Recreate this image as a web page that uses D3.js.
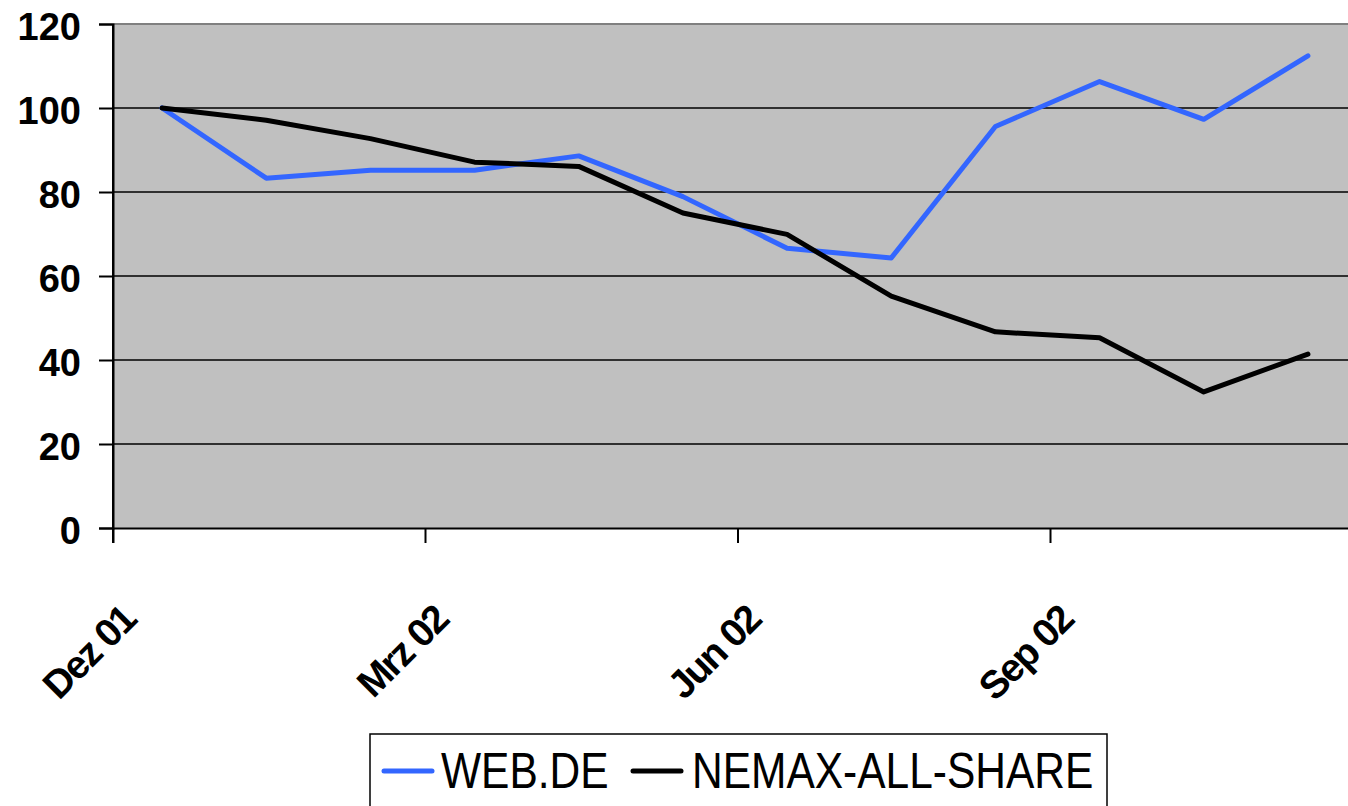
<!DOCTYPE html>
<html><head><meta charset="utf-8">
<script src="https://cdn.jsdelivr.net/npm/d3@7"></script>
<style>html,body{margin:0;padding:0;background:#fff;overflow:hidden}</style>
</head><body><svg id="c" width="1348" height="806"></svg>
<script>
const months = ["Dez 01","Jan 02","Feb 02","Mrz 02","Apr 02","Mai 02","Jun 02","Jul 02","Aug 02","Sep 02","Okt 02","Nov 02"];
const tickLabels = ["Dez 01","Mrz 02","Jun 02","Sep 02"];
const webde = [100, 83.3, 85.2, 85.2, 88.6, 78.9, 66.6, 64.3, 95.6, 106.3, 97.3, 112.4];
const nemax = [100, 97.1, 92.7, 87.1, 86.1, 75.0, 69.9, 55.2, 46.7, 45.3, 32.4, 41.4];
const yTicks = [0,20,40,60,80,100,120];
const seriesNames = ["WEB.DE","NEMAX-ALL-SHARE"];
const colors = ["#3366ff","#000000"];

const svg = d3.select("#c");
const L = 113, R = 1363, T = 24, B = 528;
const x = d3.scaleBand().domain(months).range([L, R]).padding(0);
const y = d3.scaleLinear().domain([0,120]).range([B, T]);

svg.append("rect").attr("x", L).attr("y", T).attr("width", R-L).attr("height", B-T).attr("fill", "#c0c0c0");
svg.selectAll(".grid").data(yTicks.filter(d=>d>0 && d<120)).enter().append("line")
  .attr("x1", L).attr("x2", R).attr("y1", d=>y(d)).attr("y2", d=>y(d))
  .attr("stroke", "#000").attr("stroke-width", 1.5);
svg.append("line").attr("x1", L).attr("x2", R).attr("y1", y(120)).attr("y2", y(120)).attr("stroke", "#808080").attr("stroke-width", 2);

const yAxis = d3.axisLeft(y).tickValues(yTicks).tickSize(14).tickPadding(18);
const gy = svg.append("g").attr("transform", `translate(${L},0)`).call(yAxis);
gy.select(".domain").attr("stroke", "#000").attr("stroke-width", 2);
gy.selectAll(".tick line").attr("stroke", "#000").attr("stroke-width", 2);
gy.selectAll(".tick text").attr("font-family", "Liberation Sans, Arial, sans-serif").attr("font-weight", "bold")
  .attr("font-size", 38).attr("fill", "#000").attr("dy", "0.42em");

const xAxis = d3.axisBottom(x).tickValues(tickLabels).tickSize(15).tickFormat("");
const gx = svg.append("g").attr("transform", `translate(0,${B})`).call(xAxis);
gx.selectAll(".tick").attr("transform", d => `translate(${x(d)},0)`);
gx.select(".domain").attr("stroke", "#000").attr("stroke-width", 2);
gx.selectAll(".tick line").attr("stroke", "#000").attr("stroke-width", 2);
gx.selectAll(".tick").append("text")
  .attr("transform", "translate(25,94) rotate(-45)")
  .attr("text-anchor", "end").attr("font-family", "Liberation Sans, Arial, sans-serif").attr("font-weight", "bold")
  .attr("font-size", 39).attr("letter-spacing", -2).attr("fill", "#000").text(d=>d);

const line = d3.line().x((d,i)=>x(months[i]) + x.bandwidth()/2 - 3).y(d=>y(d));
[webde, nemax].forEach((s,k)=>{
  svg.append("path").datum(s).attr("d", line).attr("fill","none").attr("stroke", colors[k])
    .attr("stroke-width", 5).attr("stroke-linejoin","round").attr("stroke-linecap","round");
});
svg.append("line").attr("x1", L).attr("x2", L).attr("y1", T).attr("y2", B).attr("stroke","#000").attr("stroke-width",2);

const lg = svg.append("g");
lg.append("rect").attr("x", 370).attr("y", 734).attr("width", 737).attr("height", 100).attr("fill", "#fff").attr("stroke", "#000").attr("stroke-width", 1.5);
const items = [{x:384, tx:441}, {x:633, tx:692}];
seriesNames.forEach((n,k)=>{
  lg.append("line").attr("x1", items[k].x).attr("x2", items[k].x+48).attr("y1", 771).attr("y2", 771)
    .attr("stroke", colors[k]).attr("stroke-width", 5).attr("stroke-linecap","round");
  lg.append("text").attr("transform", `translate(${items[k].tx},788) scale(0.85,1)`)
    .attr("font-family", "Liberation Sans, Arial, sans-serif").attr("font-size", 50).attr("fill", "#000").text(n);
});
</script></body></html>
